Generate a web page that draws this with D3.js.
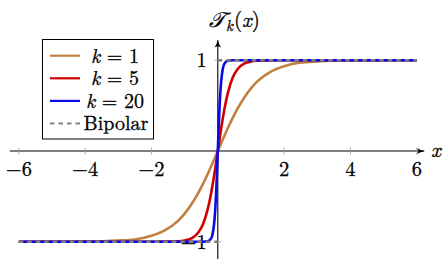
<!DOCTYPE html>
<html>
<head>
<meta charset="utf-8">
<script src="https://cdn.jsdelivr.net/npm/d3@7"></script>
<style>
  body { margin: 0; background: #fff; }
  svg { display: block; }
</style>
</head>
<body>
<div id="chart"></div>
<script>
// values
const xValues = [-6, -4, -3, -2.5, -2, -1.6, -1.2, -1, -0.8, -0.6, -0.45, -0.3, -0.2, -0.15, -0.1, -0.06, -0.03,
                 0, 0.03, 0.06, 0.1, 0.15, 0.2, 0.3, 0.45, 0.6, 0.8, 1, 1.2, 1.6, 2, 2.5, 3, 4, 6];
const k1Values = [-1, -0.998, -0.988, -0.975, -0.935, -0.876, -0.77, -0.69, -0.59, -0.47, -0.365, -0.25, -0.168, -0.127, -0.085, -0.051, -0.026,
                  0, 0.026, 0.051, 0.085, 0.127, 0.168, 0.25, 0.365, 0.47, 0.59, 0.69, 0.77, 0.876, 0.935, 0.975, 0.988, 0.998, 1];
const k5Values = [-1, -1, -1, -1, -1, -0.999, -0.995, -0.987, -0.964, -0.905, -0.81, -0.635, -0.462, -0.358, -0.245, -0.149, -0.075,
                  0, 0.075, 0.149, 0.245, 0.358, 0.462, 0.635, 0.81, 0.905, 0.964, 0.987, 0.995, 0.999, 1, 1, 1, 1, 1];
const k20Values = [-1, -1, -1, -1, -1, -1, -1, -1, -1, -1, -1, -0.995, -0.964, -0.905, -0.76, -0.54, -0.29,
                   0, 0.29, 0.54, 0.76, 0.905, 0.964, 0.995, 1, 1, 1, 1, 1, 1, 1, 1, 1, 1, 1];
const bipolarSegments = [[[-6, -1], [0, -1]], [[0, 1], [6, 1]]];
const xTicks = [-6, -4, -2, 2, 4, 6];
const yTicks = [-1, 1];

const series = [
  {label: "1", values: k1Values, color: "#bf8040"},
  {label: "5", values: k5Values, color: "#d00000"},
  {label: "20", values: k20Values, color: "#0a0ae6"}
];

const serif = "'Latin Modern Roman', 'Liberation Serif', 'Inter'";

const W = 448, H = 268;
const svg = d3.select("#chart").append("svg")
  .attr("width", W).attr("height", H)
  .attr("font-family", serif);

const x = d3.scaleLinear().domain([-6, 6]).range([18.8, 416.8]);
const y = d3.scaleLinear().domain([-1, 1]).range([241.7, 60.3]);

// slightly heavier text, like the reference rendering
function ink(sel) {
  return sel.attr("stroke", "#000").attr("stroke-width", 0.3);
}

// arrow head
svg.append("defs").append("marker")
  .attr("id", "arr")
  .attr("viewBox", "0 -5 10 10")
  .attr("refX", 9).attr("refY", 0)
  .attr("markerWidth", 8).attr("markerHeight", 8)
  .attr("markerUnits", "userSpaceOnUse")
  .attr("orient", "auto")
  .append("path")
  .attr("d", "M0,-4 Q4,-1 10,0 Q4,1 0,4 L2,0 Z")
  .attr("fill", "#000");

// tick labels first (the curves cover the minus of -1)
svg.append("g").call(ink).selectAll("text")
  .data(xTicks).join("text")
  .attr("x", d => x(d))
  .attr("y", y(0) + 25)
  .attr("text-anchor", "middle")
  .attr("font-size", 20.5)
  .text(d3.format("d"));

svg.append("g").call(ink).selectAll("text")
  .data(yTicks).join("text")
  .attr("x", x(0) - 11)
  .attr("y", d => y(d) + 6.8)
  .attr("text-anchor", "end")
  .attr("font-size", 20.5)
  .text(d3.format("d"));

// axis lines
svg.append("line")
  .attr("x1", x(-6.27)).attr("x2", x(6.22))
  .attr("y1", y(0)).attr("y2", y(0))
  .attr("stroke", "#000").attr("stroke-width", 1.1)
  .attr("marker-end", "url(#arr)");
svg.append("line")
  .attr("x1", x(0)).attr("x2", x(0))
  .attr("y1", y(-1.19)).attr("y2", y(1.22))
  .attr("stroke", "#000").attr("stroke-width", 1.1)
  .attr("marker-end", "url(#arr)");

// ticks
svg.append("g").selectAll("line")
  .data(xTicks).join("line")
  .attr("x1", d => x(d)).attr("x2", d => x(d))
  .attr("y1", y(0) - 3.5).attr("y2", y(0) + 3.5)
  .attr("stroke", "#999").attr("stroke-width", 0.8);
svg.append("g").selectAll("line")
  .data(yTicks).join("line")
  .attr("x1", x(0) - 3.5).attr("x2", x(0) + 3.5)
  .attr("y1", d => y(d)).attr("y2", d => y(d))
  .attr("stroke", "#999").attr("stroke-width", 0.8);

// axis labels
svg.append("text").call(ink)
  .attr("x", x(6.22) + 7).attr("y", y(0) + 6)
  .attr("font-size", 21).attr("font-style", "italic")
  .text("x");

const title = svg.append("text").call(ink)
  .attr("x", 209).attr("y", 27)
  .attr("font-size", 21);
title.append("tspan").attr("font-style", "italic").text("\u{1D4AF}");
title.append("tspan").attr("font-size", 15).attr("font-style", "italic").attr("dy", 4).attr("dx", 1).text("k");
title.append("tspan").attr("dy", -4).attr("dx", 1).text("(");
title.append("tspan").attr("font-style", "italic").text("x");
title.append("tspan").text(")");

// curves
const line = d3.line()
  .x((d, i) => x(xValues[i]))
  .y(d => y(d))
  .curve(d3.curveMonotoneX);

svg.append("g").selectAll("path")
  .data(series).join("path")
  .attr("d", d => line(d.values))
  .attr("fill", "none")
  .attr("stroke", d => d.color)
  .attr("stroke-width", 2.6);

const segLine = d3.line().x(d => x(d[0])).y(d => y(d[1]));
svg.append("g").selectAll("path")
  .data(bipolarSegments).join("path")
  .attr("d", segLine)
  .attr("fill", "none")
  .attr("stroke", "#808080")
  .attr("stroke-width", 2.6)
  .attr("stroke-dasharray", "4.5,4");

// legend
const legend = svg.append("g");
legend.append("rect")
  .attr("x", 42.5).attr("y", 39.5)
  .attr("width", 111).attr("height", 99.5)
  .attr("fill", "#fff").attr("stroke", "#000").attr("stroke-width", 1);

const legendItems = series.map(s => ({color: s.color, label: s.label, dash: null}))
  .concat([{color: "#808080", label: null, dash: "4.5,4"}]);

const rows = legend.selectAll("g.row")
  .data(legendItems).join("g")
  .attr("class", "row")
  .attr("transform", (d, i) => `translate(0, ${55.7 + i * 22.6})`);

rows.append("line")
  .attr("x1", 50).attr("x2", 80)
  .attr("y1", 0).attr("y2", 0)
  .attr("stroke", d => d.color)
  .attr("stroke-width", 2.2)
  .attr("stroke-dasharray", d => d.dash);

rows.each(function(d) {
  const t = d3.select(this).append("text").call(ink)
    .attr("x", d.label == null ? 116 : 115).attr("y", 6.8)
    .attr("text-anchor", "middle")
    .attr("font-size", 20);
  if (d.label == null) {
    t.text("Bipolar");
  } else {
    t.append("tspan").attr("font-style", "italic").text("k");
    t.append("tspan").text(" = " + d.label);
  }
});
</script>
</body>
</html>
